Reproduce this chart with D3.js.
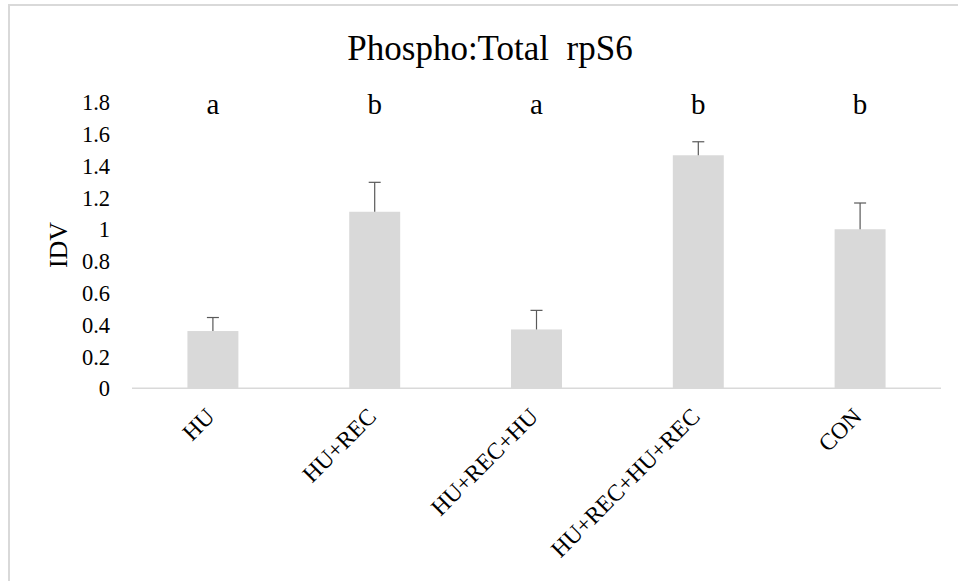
<!DOCTYPE html>
<html>
<head>
<meta charset="utf-8">
<script src="https://cdnjs.cloudflare.com/ajax/libs/d3/7.8.5/d3.min.js"></script>
<style>
  body { margin: 0; background: #fff; }
</style>
</head>
<body>
<div id="chart"></div>
<script>
var groups = ["HU", "HU+REC", "HU+REC+HU", "HU+REC+HU+REC", "CON"];
var means = [0.36, 1.11, 0.37, 1.465, 1.0];
var errors = [0.085, 0.185, 0.12, 0.085, 0.165];
var letters = ["a", "b", "a", "b", "b"];
var yTicks = [0, 0.2, 0.4, 0.6, 0.8, 1, 1.2, 1.4, 1.6, 1.8];

var serif = "'Liberation Serif', 'Times New Roman', serif";

var svg = d3.select("#chart")
	.append("svg")
	.attr("width", 958)
	.attr("height", 581)
	.attr("font-family", serif);

// chart area frame (right/bottom edges run off the picture)
svg.append("rect")
	.attr("x", 9)
	.attr("y", 5)
	.attr("width", 980)
	.attr("height", 620)
	.attr("fill", "none")
	.attr("stroke", "#d9d9d9")
	.attr("stroke-width", 2);

var x = d3.scaleBand()
	.domain(groups)
	.range([132, 941])
	.paddingInner(0.685)
	.paddingOuter(0.3425);

var y = d3.scaleLinear()
	.domain([0, 1.8])
	.range([388.3, 102]);

svg.append("text")
	.attr("x", 490)
	.attr("y", 60)
	.attr("text-anchor", "middle")
	.attr("font-family", serif)
	.style("font-size", "35px")
	.style("white-space", "pre")
	.text("Phospho:Total  rpS6");

// y tick labels
svg.selectAll(".ytick")
	.data(yTicks)
	.enter()
	.append("text")
	.attr("class", "ytick")
	.attr("x", 110)
	.attr("y", function(d) { return y(d); })
	.attr("dy", "0.36em")
	.attr("text-anchor", "end")
	.attr("font-family", serif)
	.style("font-size", "22.5px")
	.text(function(d) { return d3.format("")(d); });

svg.append("text")
	.attr("transform", "translate(67,245) rotate(-90)")
	.attr("text-anchor", "middle")
	.attr("font-family", serif)
	.style("font-size", "26px")
	.text("IDV");

svg.selectAll(".bar")
	.data(groups)
	.enter()
	.append("rect")
	.attr("class", "bar")
	.attr("x", function(d) { return x(d); })
	.attr("y", function(d, i) { return y(means[i]); })
	.attr("width", x.bandwidth())
	.attr("height", function(d, i) { return y(0) - y(means[i]); })
	.attr("fill", "#d9d9d9");

// baseline
svg.append("line")
	.attr("x1", 132)
	.attr("x2", 941)
	.attr("y1", y(0))
	.attr("y2", y(0))
	.attr("stroke", "#d9d9d9")
	.attr("stroke-width", 1.5);

// error bars (upper only)
var eb = svg.selectAll(".err")
	.data(groups)
	.enter()
	.append("g")
	.attr("class", "err")
	.attr("stroke", "#595959")
	.attr("stroke-width", 1.2);

eb.append("line")
	.attr("x1", function(d) { return x(d) + x.bandwidth() / 2; })
	.attr("x2", function(d) { return x(d) + x.bandwidth() / 2; })
	.attr("y1", function(d, i) { return y(means[i]); })
	.attr("y2", function(d, i) { return y(means[i] + errors[i]); });

eb.append("line")
	.attr("x1", function(d) { return x(d) + x.bandwidth() / 2 - 6; })
	.attr("x2", function(d) { return x(d) + x.bandwidth() / 2 + 6; })
	.attr("y1", function(d, i) { return y(means[i] + errors[i]); })
	.attr("y2", function(d, i) { return y(means[i] + errors[i]); });

// significance letters
svg.selectAll(".sig")
	.data(groups)
	.enter()
	.append("text")
	.attr("class", "sig")
	.attr("x", function(d) { return x(d) + x.bandwidth() / 2; })
	.attr("y", 114)
	.attr("text-anchor", "middle")
	.attr("font-family", serif)
	.style("font-size", "29px")
	.text(function(d, i) { return letters[i]; });

// category labels
svg.selectAll(".xlab")
	.data(groups)
	.enter()
	.append("text")
	.attr("class", "xlab")
	.attr("transform", function(d) {
		return "translate(" + (x(d) + x.bandwidth() / 2 + 3) + ",418) rotate(-45)";
	})
	.attr("text-anchor", "end")
	.attr("font-family", serif)
	.style("font-size", "23.5px")
	.text(function(d) { return d; });
</script>
</body>
</html>
